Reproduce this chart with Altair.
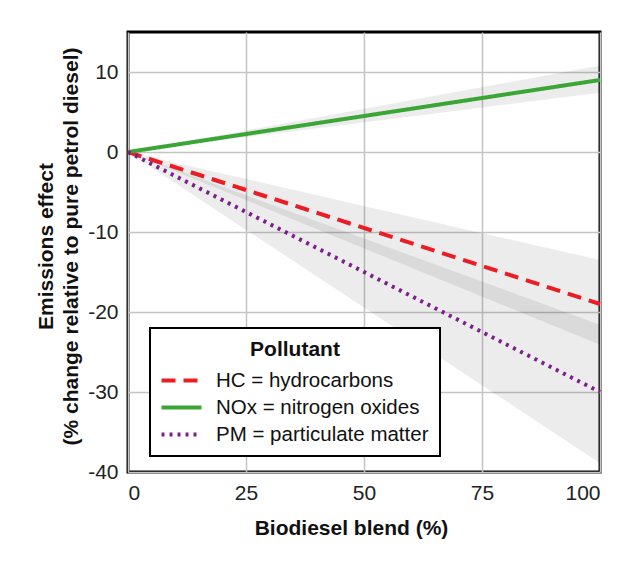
import altair as alt
import pandas as pd

# ---- data ----
pollutants = ["HC = hydrocarbons", "NOx = nitrogen oxides", "PM = particulate matter"]
blend = [0, 100]
hc_effect = [0, -19.0]
nox_effect = [0, 9.0]
pm_effect = [0, -30.0]
hc_low = [0, -24.1]
hc_high = [0, -13.5]
nox_low = [0, 7.4]
nox_high = [0, 10.8]
pm_low = [0, -38.9]
pm_high = [0, -21.6]

x_ticks = [0, 25, 50, 75, 100]
y_ticks = [-40, -30, -20, -10, 0, 10]

colors = ["#ec1c24", "#3ba635", "#7b1f8a"]
dashes = [[14, 8], [1, 0], [3, 5]]

rows = []
for name, eff, lo, hi in zip(pollutants,
                             [hc_effect, nox_effect, pm_effect],
                             [hc_low, nox_low, pm_low],
                             [hc_high, nox_high, pm_high]):
    for b, e, l, h in zip(blend, eff, lo, hi):
        rows.append({"pollutant": name, "blend": b, "effect": e, "low": l, "high": h})
df = pd.DataFrame(rows)

FONT = "Liberation Sans"

x_enc = alt.X("blend:Q",
              scale=alt.Scale(domain=[0, 100], nice=False),
              axis=alt.Axis(values=x_ticks, title="Biodiesel blend (%)",
                            titleX=223, titleY=62, titleBaseline="alphabetic"))

bands = alt.Chart(df).mark_area(color="#000000", opacity=0.075).encode(
    x=x_enc,
    y=alt.Y("low:Q"),
    y2="high:Q",
    detail="pollutant:N",
)

legend = alt.Legend(title="Pollutant", orient="none", legendX=22, legendY=296,
                    labelLimit=400)

lines = alt.Chart(df).mark_line(strokeWidth=4).encode(
    x=x_enc,
    y=alt.Y("effect:Q",
            scale=alt.Scale(domain=[-40, 15], nice=False),
            axis=alt.Axis(values=y_ticks,
                          title=["Emissions effect", "(% change relative to pure petrol diesel)"],
                          labelExpr="datum.value + ''",
                          titleX=-76, titleY=214, titleBaseline="alphabetic",
                          titleLineHeight=25)),
    color=alt.Color("pollutant:N",
                    scale=alt.Scale(domain=pollutants, range=colors),
                    legend=legend),
    strokeDash=alt.StrokeDash("pollutant:N",
                              scale=alt.Scale(domain=pollutants, range=dashes),
                              legend=legend),
)

chart = alt.layer(bands, lines).properties(
    width=472, height=440,
    autosize=alt.AutoSizeParams(type="none"),
    padding={"left": 120, "top": 24, "right": 16, "bottom": 78},
).configure_view(
    stroke="#000000", strokeWidth=3,
).configure_axis(
    labelFont=FONT, labelFontSize=21, labelColor="#222222",
    titleFont=FONT, titleFontSize=21, titleFontWeight="bold", titleColor="#111111",
    grid=True, gridColor="#c4c4c4", gridWidth=1.5,
    ticks=False, domain=False, labelPadding=10,
).configure_legend(
    titleFont=FONT, titleFontSize=21, titleFontWeight="bold", titleColor="#111111",
    titleAnchor="middle", titlePadding=6,
    labelFont=FONT, labelFontSize=20.5, labelColor="#111111",
    symbolType="M-1.6,0H1.6", symbolSize=625, symbolStrokeWidth=4,
    symbolFillColor="transparent", symbolOffset=6,
    labelOffset=20, rowPadding=2,
    strokeColor="#000000", strokeWidth=2, fillColor="#ffffff",
    padding=11,
)

chart.save("out.html", embed_options={"renderer": "svg", "actions": False})
